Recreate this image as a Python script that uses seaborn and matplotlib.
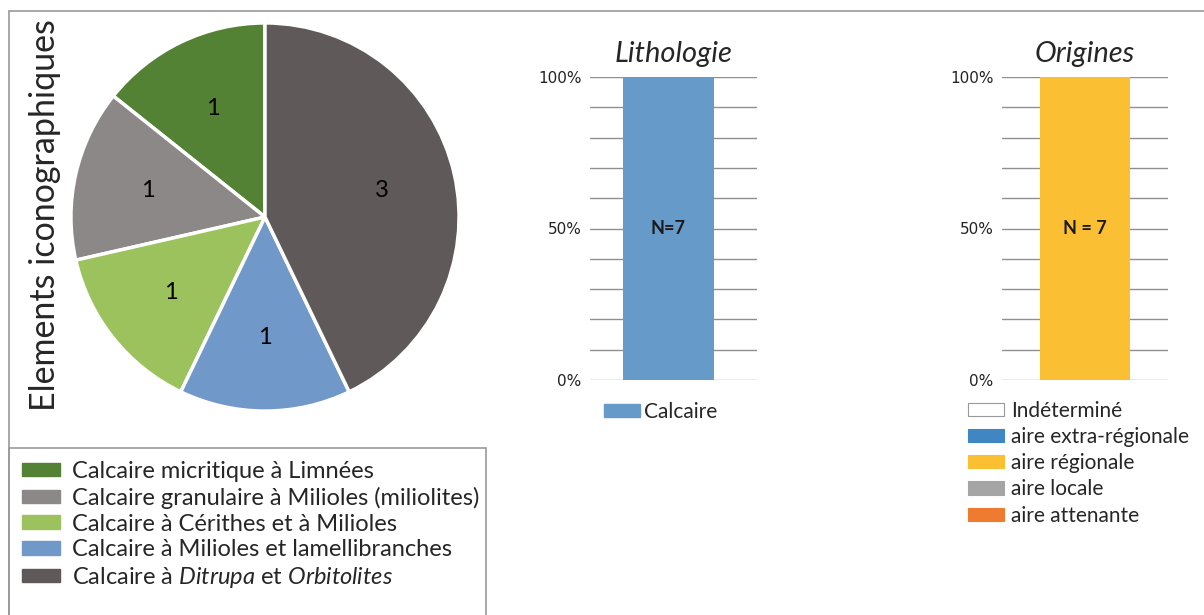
import matplotlib
matplotlib.use("Agg")
import matplotlib.pyplot as plt
from matplotlib.patches import Patch, Rectangle
import seaborn as sns
import pandas as pd

# ---- data -------------------------------------------------------------
types = [
    "Calcaire micritique à Limnées",
    "Calcaire granulaire à Milioles (miliolites)",
    "Calcaire à Cérithes et à Milioles",
    "Calcaire à Milioles et lamellibranches",
    r"Calcaire à $\mathit{Ditrupa}$ et $\mathit{Orbitolites}$",
]
type_counts = [1, 1, 1, 1, 3]
type_colors = ["#548235", "#8d8888", "#9bc25c", "#7098c9", "#5f5959"]

litho_cats = ["Calcaire"]
litho_pct = [100]
litho_colors = ["#659ac9"]

origin_cats = ["Indéterminé", "aire extra-régionale", "aire régionale",
               "aire locale", "aire attenante"]
origin_pct = [0, 0, 100, 0, 0]
origin_colors = ["#ffffff", "#3f86c2", "#fbbf33", "#a5a5a5", "#ee7b30"]

y_ticks = [0, 50, 100]
y_ticklabels = ["0%", "50%", "100%"]
grid_steps = list(range(0, 101, 10))

# ---- style ------------------------------------------------------------
sns.set_theme(style="white")
plt.rcParams["font.family"] = ["Lato", "DejaVu Sans"]
plt.rcParams["mathtext.fontset"] = "custom"
plt.rcParams["mathtext.rm"] = "Lato"
plt.rcParams["mathtext.it"] = "Lato:italic"

W, H = 1204, 615
fig = plt.figure(figsize=(W / 100, H / 100), dpi=100)
fig.patch.set_facecolor("white")


def px_axes(x0, y0, x1, y1):
    """Axes from pixel box (top-left origin)."""
    return fig.add_axes([x0 / W, 1 - y1 / H, (x1 - x0) / W, (y1 - y0) / H])


# outer frame lines and legend box
fig.add_artist(plt.Line2D([9 / W, 1], [1 - 11 / H, 1 - 11 / H], color="#9a9a9a", lw=1.2,
                          transform=fig.transFigure))
fig.add_artist(plt.Line2D([9 / W, 9 / W], [0, 1 - 11 / H], color="#9a9a9a", lw=1.2,
                          transform=fig.transFigure))
fig.add_artist(Rectangle((9 / W, -0.01), (486 - 9) / W, 0.01 + 1 - 448 / H,
                         transform=fig.transFigure, fill=False,
                         edgecolor="#9a9a9a", lw=1.2))

# ---- pie --------------------------------------------------------------
cx, cy, r = 265, 217, 196
ax_pie = px_axes(cx - r, cy - r, cx + r, cy + r)
total = sum(type_counts)
ax_pie.pie(type_counts, colors=type_colors, startangle=90, counterclock=True,
           autopct=lambda p: f"{round(p * total / 100)}", pctdistance=0.62,
           wedgeprops=dict(edgecolor="white", linewidth=2.5),
           textprops=dict(fontsize=17, color="black"))
ax_pie.set_xlim(-1.01, 1.01)
ax_pie.set_ylim(-1.01, 1.01)
ax_pie.set_aspect("equal")
ax_pie.axis("off")

fig.text(45 / W, 1 - 215 / H, "Elements iconographiques", rotation=90,
         ha="center", va="center", fontsize=24.5)

fig.legend(handles=[Patch(facecolor=c, edgecolor=c) for c in type_colors],
           labels=types, loc="upper left", bbox_to_anchor=(22 / W, 1 - 461 / H),
           frameon=False, fontsize=17, handlelength=1.6, handleheight=0.5,
           handletextpad=0.5, labelspacing=0.2, borderaxespad=0, borderpad=0)


# ---- stacked percentage bars ------------------------------------------
def pct_bar(ax, cats, pcts, colors, title, n_label, offset):
    df = pd.DataFrame({"g": ["all"] * len(cats), "cat": cats, "pct": pcts})
    bottom = 0
    for cat, pct, col in zip(cats, pcts, colors):
        if pct <= 0:
            continue
        sns.barplot(data=df[df["cat"] == cat], x="g", y="pct", color=col,
                    width=0.54, ax=ax, saturation=1, bottom=bottom,
                    linewidth=0, zorder=3)
        bottom += pct
    for g in grid_steps:
        ax.axhline(g, color="#8f8f8f", lw=1.0, zorder=1)
    ax.set_ylim(0, 100)
    ax.set_xlim(-0.5 + offset, 0.5 + offset)
    ax.set_yticks(y_ticks)
    ax.set_yticklabels(y_ticklabels, family="DejaVu Sans", fontsize=11,
                       color="#222222")
    ax.tick_params(axis="y", length=0, pad=6)
    ax.set_xticks([])
    ax.set_xlabel("")
    ax.set_ylabel("")
    for s in ax.spines.values():
        s.set_visible(False)
    ax.set_facecolor("none")
    ax.set_title(title, fontstyle="italic", fontsize=21, pad=11)
    ax.text(0, 50, n_label, ha="center", va="center", fontsize=13,
            fontweight="bold", color="#1a1a1a", zorder=5)


ax_l = px_axes(590, 77, 757, 380)
pct_bar(ax_l, litho_cats, litho_pct, litho_colors, "Lithologie",
        f"N={total}", offset=0.03)
ax_l.legend(handles=[Patch(facecolor=c, edgecolor=c) for c in litho_colors],
            labels=litho_cats, loc="upper left",
            bbox_to_anchor=(14 / 167, -0.072), frameon=False, fontsize=15,
            handlelength=1.75, handleheight=0.6, handletextpad=0.15,
            borderaxespad=0, borderpad=0)

ax_o = px_axes(1002, 77, 1168, 380)
pct_bar(ax_o, origin_cats, origin_pct, origin_colors, "Origines",
        f"N = {total}", offset=0.0)
ax_o.legend(handles=[Patch(facecolor=c, edgecolor="#999999" if c == "#ffffff" else c,
                           linewidth=0.8) for c in origin_colors],
            labels=origin_cats, loc="upper left",
            bbox_to_anchor=(-34 / 166, -0.068), frameon=False, fontsize=15,
            handlelength=1.75, handleheight=0.6, handletextpad=0.3,
            labelspacing=0.3, borderaxespad=0, borderpad=0)

fig.savefig("out.png", dpi=100, facecolor="white")
